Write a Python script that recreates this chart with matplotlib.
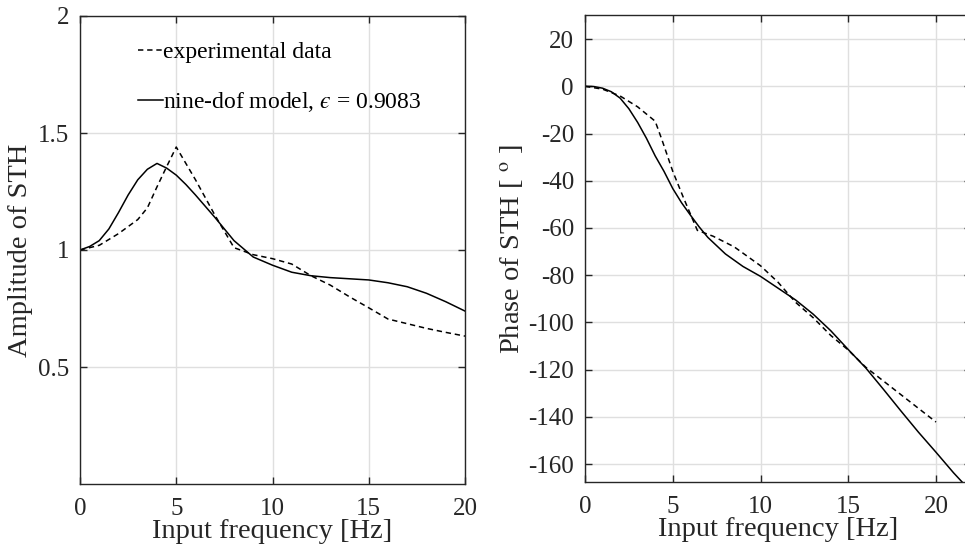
import numpy as np
import matplotlib
matplotlib.use("Agg")
import matplotlib.pyplot as plt

# ---- data ----
amp_exp_f = [0, 1, 2, 3, 3.5, 4, 4.5, 5, 6, 7, 8, 9, 10, 11, 12, 13, 14, 15, 16, 17, 18, 19, 20]
amp_exp = [1.0, 1.02, 1.07, 1.13, 1.18, 1.27, 1.356, 1.44, 1.30, 1.15, 1.01, 0.98, 0.963, 0.94,
           0.89, 0.85, 0.80, 0.753, 0.705, 0.685, 0.665, 0.648, 0.632]

amp_mod_f = [0, 0.5, 1, 1.5, 2, 2.5, 3, 3.5, 4, 4.5, 5, 5.5, 6, 7, 8, 9, 10, 11, 12, 13, 14,
             15, 16, 17, 18, 19, 20]
amp_mod = [1.0, 1.015, 1.04, 1.09, 1.16, 1.235, 1.30, 1.345, 1.37, 1.35, 1.32, 1.28, 1.235,
           1.14, 1.04, 0.97, 0.935, 0.905, 0.89, 0.882, 0.877, 0.872, 0.86, 0.843, 0.815,
           0.779, 0.739]

ph_exp_f = [0, 1, 2, 3, 4, 4.4, 5, 5.6, 6.4, 7.3, 8.5, 10, 11, 12, 13, 14, 15, 16, 17, 18, 19, 20]
ph_exp = [0, -1.2, -4.1, -8.7, -14.8, -23, -36, -47, -61, -63.5, -68, -76, -83, -91.5, -98,
          -105.5, -111.7, -119, -124.8, -130.6, -136.4, -142.2]

ph_mod_f = [0, 0.5, 1, 1.5, 2, 2.5, 3, 3.5, 4, 4.5, 5, 5.5, 6, 6.5, 7, 8, 9, 10, 11, 12, 13,
            14, 15, 16, 17, 18, 19, 20, 21, 21.6]
ph_mod = [0, -0.1, -0.8, -2.3, -5, -9.5, -15.3, -22, -29.5, -36, -43.3, -49.3, -54.5, -59.5,
          -64, -71, -76.3, -80.5, -85.5, -90.5, -96.5, -103.5, -111.5, -119.3, -128.3, -137.5,
          -146.5, -155, -163.7, -168.5]

xticks = [0, 5, 10, 15, 20]
amp_yticks = [0.5, 1, 1.5, 2]
ph_yticks = [-160, -140, -120, -100, -80, -60, -40, -20, 0, 20]

# ---- style ----
plt.rcParams['font.family'] = ['Liberation Serif', 'DejaVu Serif']
plt.rcParams['mathtext.fontset'] = 'stix'
plt.rcParams['axes.unicode_minus'] = False
FS_TICK = 18
FS_LAB = 20.5
FS_LEG = 17
TXT = '#262626'
GRID = '#dfdfdf'

fig = plt.figure(figsize=(9.65, 5.47), dpi=100)
W, H = 965, 547

def make_ax(left, right, bottom, top):
    return fig.add_axes([left / W, 1 - bottom / H, (right - left) / W, (bottom - top) / H])

ax1 = make_ax(80, 465, 484, 16)
ax2 = make_ax(585, 585 + 22 * 17.55, 482, 15)

for ax in (ax1, ax2):
    ax.grid(True, color=GRID, linewidth=1.0)
    ax.set_axisbelow(True)
    ax.tick_params(direction='in', top=True, right=True, length=5, width=1.0,
                   labelsize=FS_TICK, colors=TXT)
    ax.tick_params(axis='x', pad=10)
    ax.tick_params(axis='y', pad=8)
    for s in ax.spines.values():
        s.set_color(TXT)
        s.set_linewidth(1.0)
    ax.set_xticks(xticks)
    ax.set_xlabel('Input frequency [Hz]', fontsize=FS_LAB, color=TXT, labelpad=-1)

# left
ax1.plot(amp_exp_f, amp_exp, 'k--', lw=1.1, dashes=(3.5, 2.5), label='experimental data')
ax1.plot(amp_mod_f, amp_mod, 'k-', lw=1.1, label='nine-dof model, $\u03f5$ = 0.9083')
ax1.set_xlim(0, 20)
ax1.set_ylim(0, 2)
ax1.set_yticks(amp_yticks)
ax1.set_yticklabels(['0.5', '1', '1.5', '2'])
ax1.set_ylabel('Amplitude of STH', fontsize=FS_LAB, color=TXT, labelpad=3)
leg = ax1.legend(loc='upper left', bbox_to_anchor=(0.125, 0.965), frameon=False, fontsize=FS_LEG,
                 handlelength=1.08, handletextpad=0.0, labelspacing=1.14, borderaxespad=0.0)
for t in leg.get_texts():
    t.set_color('black')

# right
ax2.plot(ph_exp_f, ph_exp, 'k--', lw=1.1, dashes=(3.5, 2.5))
ax2.plot(ph_mod_f, ph_mod, 'k-', lw=1.1)
ax2.set_xlim(0, 22)
ax2.set_ylim(-167.6, 30.2)
ax2.set_yticks(ph_yticks)
ax2.set_ylabel(r'Phase of STH [ $^{\rm o}$ ]', fontsize=FS_LAB, color=TXT, labelpad=2)

fig.savefig('out.png', dpi=100)
